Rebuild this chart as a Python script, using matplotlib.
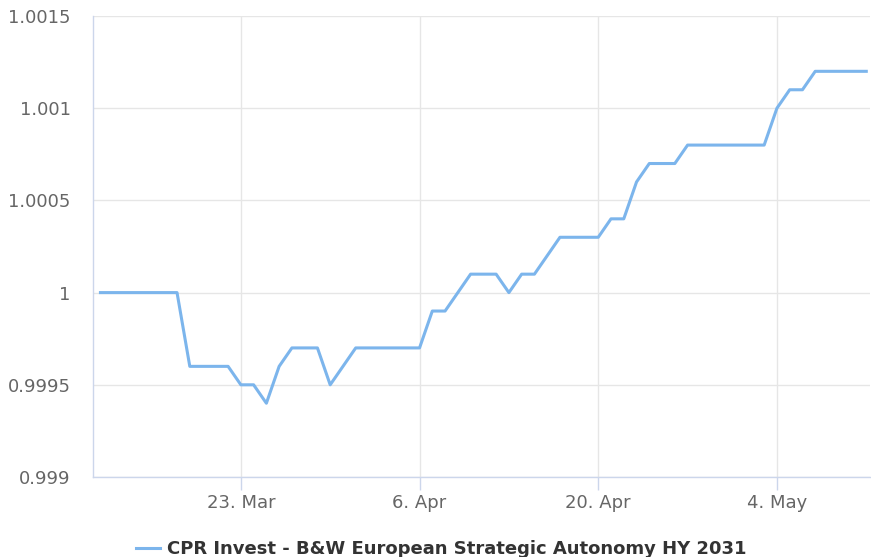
import matplotlib

matplotlib.use("Agg")
import matplotlib.dates as mdates
import matplotlib.pyplot as plt
import matplotlib.ticker as mticker
import pandas as pd

SERIES_NAME = "CPR Invest - B&W European Strategic Autonomy HY 2031"
START_DATE = "2024-03-12"

# daily NAV, 12 Mar .. 11 May
NAV = [
    1.0000, 1.0000, 1.0000, 1.0000, 1.0000, 1.0000, 1.0000,  # 12-18 Mar
    0.9996, 0.9996, 0.9996, 0.9996, 0.9995, 0.9995, 0.9994,  # 19-25 Mar
    0.9996, 0.9997, 0.9997, 0.9997, 0.9995, 0.9996, 0.9997,  # 26 Mar-1 Apr
    0.9997, 0.9997, 0.9997, 0.9997, 0.9997, 0.9999, 0.9999,  # 2-8 Apr
    1.0000, 1.0001, 1.0001, 1.0001, 1.0000, 1.0001, 1.0001,  # 9-15 Apr
    1.0002, 1.0003, 1.0003, 1.0003, 1.0003, 1.0004, 1.0004,  # 16-22 Apr
    1.0006, 1.0007, 1.0007, 1.0007, 1.0008, 1.0008, 1.0008,  # 23-29 Apr
    1.0008, 1.0008, 1.0008, 1.0008, 1.0010, 1.0011, 1.0011,  # 30 Apr-6 May
    1.0012, 1.0012, 1.0012, 1.0012, 1.0012,                  # 7-11 May
]
X_TICKS = ["2024-03-23", "2024-04-06", "2024-04-20", "2024-05-04"]
Y_TICKS = [0.999, 0.9995, 1.0, 1.0005, 1.001, 1.0015]

LINE_COLOR = "#7cb5ec"
AXIS_COLOR = "#ccd6eb"
GRID_COLOR = "#e6e6e6"
TEXT_COLOR = "#666666"


def _fmt_y(v, _pos):
    return f"{v:.4f}".rstrip("0").rstrip(".")


def main() -> None:
    dates = pd.date_range(START_DATE, periods=len(NAV), freq="D")

    fig = plt.figure(figsize=(8.71, 5.57), dpi=100)
    ax = fig.add_axes([93 / 871, 1 - 477 / 557, (870 - 93) / 871, (477 - 16) / 557])

    ax.plot(dates, NAV, color=LINE_COLOR, linewidth=2.2, solid_joinstyle="round",
            label=SERIES_NAME, zorder=3)

    ax.set_xlim(dates[0] - pd.Timedelta(hours=14), dates[-1] + pd.Timedelta(hours=7))
    ax.set_ylim(0.999, 1.0015)
    ax.set_yticks(Y_TICKS)
    ax.yaxis.set_major_formatter(mticker.FuncFormatter(_fmt_y))
    ax.set_xticks(pd.to_datetime(X_TICKS))
    ax.xaxis.set_major_formatter(mdates.DateFormatter("%-d. %b"))

    ax.grid(True, color=GRID_COLOR, linewidth=1.0, zorder=0)
    ax.set_axisbelow(True)
    for side in ["top", "right"]:
        ax.spines[side].set_visible(False)
    for side in ["left", "bottom"]:
        ax.spines[side].set_color(AXIS_COLOR)
        ax.spines[side].set_linewidth(1.0)

    ax.tick_params(axis="y", length=0, pad=16, labelsize=13, labelcolor=TEXT_COLOR)
    ax.tick_params(axis="x", length=9, width=1.0, color=AXIS_COLOR, pad=3,
                   labelsize=13, labelcolor=TEXT_COLOR)

    fig.legend(
        loc="center",
        bbox_to_anchor=(0.5 + 6 / 871, 1 - 549 / 557),
        frameon=False,
        handlelength=1.3,
        handletextpad=0.4,
        prop={"weight": "bold", "size": 13},
        labelcolor="#333333",
    )

    fig.savefig("out.png", dpi=100)
    plt.close(fig)


if __name__ == "__main__":
    main()
